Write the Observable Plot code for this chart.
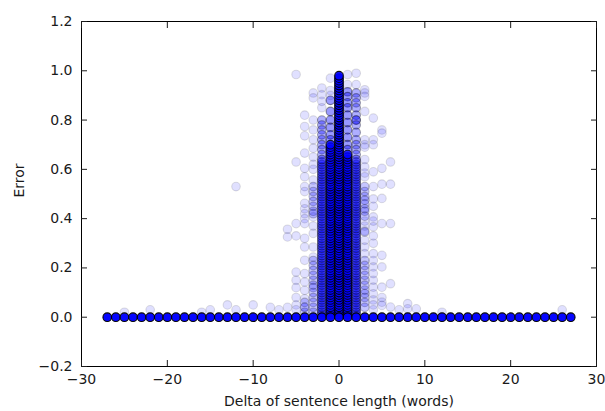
<!DOCTYPE html>
<html>
<head>
<meta charset="utf-8">
<script src="https://cdn.jsdelivr.net/npm/d3@7"></script>
<script src="https://cdn.jsdelivr.net/npm/@observablehq/plot@0.6"></script>
<style>
  html, body { margin: 0; padding: 0; background: #fff; }
</style>
</head>
<body>
<div id="chart"></div>
<script>
// ---- data ----
const xLabel = "Delta of sentence length (words)";
const yLabel = "Error";
const xTicks = [-30, -20, -10, 0, 10, 20, 30];
const yTicks = [-0.2, 0.0, 0.2, 0.4, 0.6, 0.8, 1.0, 1.2];

// zero-error samples (heavily overplotted) at every delta
const baselineDeltas = [-27,-26,-25,-24,-23,-22,-21,-20,-19,-18,-17,-16,-15,-14,-13,-12,-11,-10,-9,-8,-7,-6,-5,-4,-3,-2,-1,0,1,2,3,4,5,6,7,8,9,10,11,12,13,14,15,16,17,18,19,20,21,22,23,24,25,26,27];
const baselineCount = 30;

// isolated single samples, per delta
const sparseDeltas = [-25, -22, -16, -15, -13, -12, -10, -8, -7, -6, -5, -4, -3, -2, -1, 1, 2, 3, 4, 5, 6, 7, 8, 9, 12, 26];
const sparseErrors = [
  [0.02],
  [0.03],
  [0.02],
  [0.03],
  [0.05],
  [0.53, 0.03],
  [0.05],
  [0.04],
  [0.03],
  [0.357, 0.326, 0.04],
  [0.985, 0.63, 0.38, 0.33, 0.183, 0.15, 0.12, 0.08, 0.05, 0.03],
  [0.82, 0.774, 0.736, 0.666, 0.604, 0.57, 0.53, 0.51, 0.462, 0.44, 0.42, 0.40, 0.38, 0.32, 0.285, 0.231, 0.177, 0.143, 0.109, 0.075, 0.041],
  [0.91, 0.89, 0.80, 0.76, 0.72, 0.686, 0.65, 0.62, 0.60, 0.557, 0.407, 0.37, 0.34, 0.285, 0.244],
  [0.93, 0.903, 0.876, 0.85],
  [0.97, 0.92, 0.90],
  [0.985, 0.944],
  [0.99, 0.944],
  [0.923, 0.91, 0.896, 0.835, 0.72, 0.70, 0.69, 0.64, 0.61, 0.585, 0.57, 0.39, 0.37, 0.35, 0.312, 0.285, 0.258],
  [0.808, 0.72, 0.70, 0.59, 0.53, 0.48, 0.45, 0.407, 0.39, 0.367, 0.33, 0.30, 0.258, 0.23, 0.204, 0.177, 0.15, 0.122, 0.095, 0.07, 0.05, 0.03],
  [0.76, 0.747, 0.604, 0.54, 0.482, 0.38, 0.251, 0.204, 0.122, 0.08, 0.061, 0.048],
  [0.63, 0.54, 0.38, 0.136, 0.041],
  [0.03],
  [0.055, 0.034],
  [0.034],
  [0.02],
  [0.03]
];

// moderately overplotted samples
const mediumDeltas = [-4, -3, -2, -1, 1, 2, 3];
const mediumCounts = [2, 2, 3, 4, 4, 3, 2];
const mediumErrors = [
  [0.06, 0.04, 0.02],
  [0.53, 0.51, 0.49, 0.47, 0.45, 0.43, 0.42, 0.23, 0.21, 0.19, 0.17, 0.15, 0.13, 0.12, 0.10, 0.08, 0.06, 0.04, 0.02],
  [0.80, 0.78, 0.76, 0.74, 0.72, 0.70, 0.68, 0.66],
  [0.88, 0.835, 0.80, 0.77, 0.74, 0.72],
  [0.915, 0.895, 0.87, 0.85, 0.82, 0.79, 0.76, 0.73, 0.70, 0.68],
  [0.91, 0.89, 0.87, 0.85, 0.82, 0.80, 0.80, 0.78, 0.75, 0.72, 0.70, 0.68, 0.66],
  [0.53, 0.51, 0.49, 0.475, 0.46, 0.44, 0.43, 0.41, 0.346, 0.23, 0.21, 0.19, 0.17, 0.15, 0.13, 0.11, 0.096, 0.08, 0.06, 0.04]
];

// densely overplotted columns: error levels and the top reached per delta
const denseLevels = [
  0.01,0.02,0.03,0.04,0.05,0.06,0.07,0.08,0.09,0.10,
  0.11,0.12,0.13,0.14,0.15,0.16,0.17,0.18,0.19,0.20,
  0.21,0.22,0.23,0.24,0.25,0.26,0.27,0.28,0.29,0.30,
  0.31,0.32,0.33,0.34,0.35,0.36,0.37,0.38,0.39,0.40,
  0.41,0.42,0.43,0.44,0.45,0.46,0.47,0.48,0.49,0.50,
  0.51,0.52,0.53,0.54,0.55,0.56,0.57,0.58,0.59,0.60,
  0.61,0.62,0.63,0.64,0.65,0.66,0.67,0.68,0.69,0.70,
  0.71,0.72,0.73,0.74,0.75,0.76,0.77,0.78,0.79,0.80,
  0.81,0.82,0.83,0.84,0.85,0.86,0.87,0.88,0.89,0.90,
  0.91,0.92,0.93,0.94,0.95,0.96,0.97,0.98
];
const denseDeltas = [-2, -1, 0, 1, 2];
const denseTops = [0.64, 0.70, 0.98, 0.66, 0.64];
const denseCounts = [4, 12, 20, 12, 4];

// ---- build table ----
const points = [];
sparseDeltas.forEach((d, i) => sparseErrors[i].forEach(e => points.push({delta: d, error: e, n: 1})));
mediumDeltas.forEach((d, i) => mediumErrors[i].forEach(e => points.push({delta: d, error: e, n: mediumCounts[i]})));
denseDeltas.forEach((d, i) => denseLevels.filter(v => v <= denseTops[i] + 1e-9)
  .forEach(e => points.push({delta: d, error: e, n: denseCounts[i]})));
baselineDeltas.forEach(d => points.push({delta: d, error: 0, n: baselineCount}));

const alpha = 0.12;
const op = d => 1 - Math.pow(1 - alpha, d.n);

const chart = Plot.plot({
  width: 605,
  height: 411,
  marginLeft: 81,
  marginRight: 9,
  marginTop: 21,
  marginBottom: 45,
  style: {fontFamily: "'DejaVu Sans', sans-serif", fontSize: "14px", color: "#1a1a1a", background: "#fff", overflow: "visible"},
  x: {domain: [-30, 30], label: null},
  y: {domain: [-0.2, 1.2], label: null},
  marks: [
    Plot.dot(points, {
      x: "delta", y: "error", r: 4.3,
      fill: "#0000ff", stroke: "#000", strokeWidth: 1.1,
      fillOpacity: op, strokeOpacity: op
    }),
    Plot.frame({stroke: "#000", strokeWidth: 1}),
    Plot.axisX(xTicks, {anchor: "bottom", tickSize: -6, tickPadding: 14, tickFormat: d3.format("d"), label: null}),
    Plot.axisX(xTicks, {anchor: "top", tickSize: -6, tickFormat: () => "", label: null}),
    Plot.axisY(yTicks, {anchor: "left", tickSize: -6, tickPadding: 15, tickFormat: d3.format(".1f"), label: null}),
    Plot.axisY(yTicks, {anchor: "right", tickSize: -6, tickFormat: () => "", label: null}),
    Plot.text([xLabel], {frameAnchor: "bottom", dy: 39.5, fontSize: 14, text: d => d}),
    Plot.text([yLabel], {frameAnchor: "left", dx: -62, dy: 3.5, rotate: -90, fontSize: 14, text: d => d})
  ]
});
document.getElementById("chart").appendChild(chart);
</script>
</body>
</html>
